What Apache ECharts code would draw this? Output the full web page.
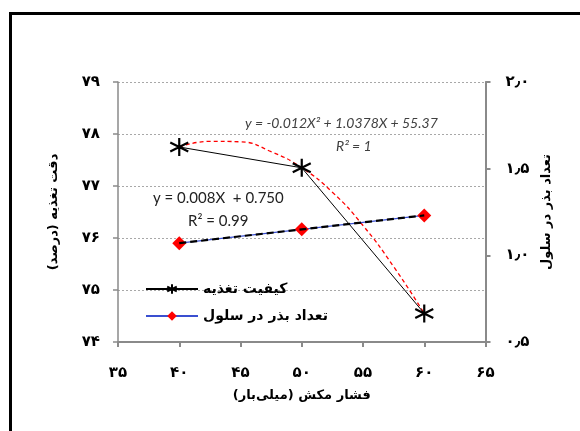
<!DOCTYPE html>
<html>
<head>
<meta charset="utf-8">
<script src="https://cdn.jsdelivr.net/npm/echarts@6/dist/echarts.min.js"></script>
<style>
html,body{margin:0;padding:0;background:#fff;}
#frame{position:absolute;left:9px;top:12px;width:640px;height:500px;border:3px solid #000;box-sizing:border-box;}
#chart{position:absolute;left:0;top:0;width:580px;height:431px;}
</style>
</head>
<body>
<div id="frame"></div>
<div id="chart"></div>
<script>
// ---- data ----
const pressure = [40, 50, 60];
const feedQuality = [77.75, 77.35, 74.55];
const seedsPerCell = [1.07, 1.15, 1.23];
// trendlines
const polyTrendX = [40, 42.5, 45, 47.5, 50, 52.5, 55, 57.5, 60];
const polyTrendY = [77.75, 77.86, 77.85, 77.66, 77.35, 76.88, 76.24, 75.45, 74.55];
const linTrendX = [40, 60];
const linTrendY = [1.07, 1.23];
// tick labels
const xTicks = [35, 40, 45, 50, 55, 60, 65];
const xTickLabels = ['۳۵', '۴۰', '۴۵', '۵۰', '۵۵', '۶۰', '۶۵'];
const yLeftTicks = [74, 75, 76, 77, 78, 79];
const yLeftTickLabels = ['۷۴', '۷۵', '۷۶', '۷۷', '۷۸', '۷۹'];
const yRightTicks = [0.5, 1.0, 1.5, 2.0];
const yRightTickLabels = ['۰٫۵', '۱٫۰', '۱٫۵', '۲٫۰'];
const seriesNames = ['کیفیت تغذیه', 'تعداد بذر در سلول'];
const xTitle = 'فشار مکش (میلی‌بار)';
const yLeftTitle = 'دقت تغذیه (درصد)';
const yRightTitle = 'تعداد بذر در سلول';
const polyEq = 'y = -0.012X² + 1.0378X + 55.37';
const polyR2 = 'R² = 1';
const linEq = 'y = 0.008X  + 0.750';
const linR2 = 'R² = 0.99';

const pick = (ticks, labels) => v => {
  const i = ticks.findIndex(t => Math.abs(t - v) < 1e-6);
  return i >= 0 ? labels[i] : '';
};
const zip = (a, b) => a.map((v, i) => [v, b[i]]);
const asterisk = 'path://M5,0 L5,10 M0.7,2.5 L9.3,7.5 M9.3,2.5 L0.7,7.5';
const fa = "'DejaVu Sans', 'Noto Sans', sans-serif";
const axisGray = '#8a8a8a';
const labelStyle = {color: '#000', fontWeight: 'bold', fontSize: 15, fontFamily: fa};

const chart = echarts.init(document.getElementById('chart'));
chart.setOption({
  animation: false,
  backgroundColor: 'transparent',
  grid: {left: 118, right: 94.5, top: 82, bottom: 89, containLabel: false},
  legend: {
    data: [seriesNames[0], seriesNames[1]],
    orient: 'vertical', left: 140, top: 277, itemWidth: 52, itemHeight: 12, itemGap: 13,
    textStyle: {color: '#000', fontWeight: 'bold', fontSize: 14, fontFamily: fa}
  },
  xAxis: {
    type: 'value', min: 35, max: 65, interval: 5,
    name: xTitle, nameLocation: 'middle', nameGap: 47,
    nameTextStyle: {color: '#000', fontWeight: 'bold', fontSize: 13, fontFamily: fa},
    axisLine: {lineStyle: {color: axisGray, width: 2}},
    axisTick: {length: 5, lineStyle: {color: axisGray, width: 2}},
    axisLabel: Object.assign({margin: 24, formatter: pick(xTicks, xTickLabels)}, labelStyle),
    splitLine: {show: false}
  },
  yAxis: [
    {
      type: 'value', min: 74, max: 79, interval: 1,
      name: yLeftTitle, nameLocation: 'middle', nameGap: 58, nameRotate: 90,
      nameTextStyle: {color: '#000', fontWeight: 'bold', fontSize: 13, fontFamily: fa},
      axisLine: {show: true, lineStyle: {color: axisGray, width: 1.5}},
      axisTick: {show: true, length: 5, lineStyle: {color: axisGray, width: 1.5}},
      axisLabel: Object.assign({margin: 18, formatter: pick(yLeftTicks, yLeftTickLabels)}, labelStyle),
      splitLine: {show: true, lineStyle: {color: '#a8a8a8', type: [2, 2], width: 1}}
    },
    {
      type: 'value', min: 0.5, max: 2.0, interval: 0.5, position: 'right',
      name: yRightTitle, nameLocation: 'middle', nameGap: 52, nameRotate: 90,
      nameTextStyle: {color: '#000', fontWeight: 'bold', fontSize: 13, fontFamily: fa},
      axisLine: {show: true, lineStyle: {color: axisGray, width: 2}},
      axisTick: {show: true, length: 5, lineStyle: {color: axisGray, width: 2}},
      axisLabel: Object.assign({margin: 20, formatter: pick(yRightTicks, yRightTickLabels)}, labelStyle),
      splitLine: {show: false}
    }
  ],
  series: [
    {
      name: 'polyTrend', type: 'line', yAxisIndex: 0, smooth: 0.5, symbol: 'none',
      data: zip(polyTrendX, polyTrendY), z: 3,
      lineStyle: {color: '#ff0000', width: 1.3, type: [4, 3]}
    },
    {
      name: seriesNames[0], type: 'line', yAxisIndex: 0,
      data: zip(pressure, feedQuality), z: 4,
      symbol: asterisk, symbolSize: 18,
      lineStyle: {color: '#000', width: 1},
      itemStyle: {color: '#000', borderColor: '#000', borderWidth: 2.2}
    },
    {
      name: seriesNames[1], type: 'line', yAxisIndex: 1,
      data: zip(pressure, seedsPerCell), z: 4,
      symbol: 'diamond', symbolSize: 14,
      lineStyle: {color: '#3a4fd0', width: 1.2},
      itemStyle: {color: '#ff0000', borderWidth: 0}
    },
    {
      name: 'linTrend', type: 'line', yAxisIndex: 1, symbol: 'none',
      data: zip(linTrendX, linTrendY), z: 5,
      lineStyle: {color: '#000', width: 2.2, type: [7, 4]}
    }
  ],
  graphic: [
    {type: 'text', left: 245, top: 116, style: {text: polyEq, fill: '#404040', font: 'italic 14px Lato, "Open Sans", sans-serif'}},
    {type: 'text', left: 336, top: 139, style: {text: polyR2, fill: '#404040', font: 'italic 14px Lato, "Open Sans", sans-serif'}},
    {type: 'text', left: 153, top: 191, style: {text: linEq, fill: '#222', font: '15px Lato, "Open Sans", sans-serif'}},
    {type: 'text', left: 188, top: 214, style: {text: linR2, fill: '#222', font: '15px Lato, "Open Sans", sans-serif'}}
  ]
});
</script>
</body>
</html>
